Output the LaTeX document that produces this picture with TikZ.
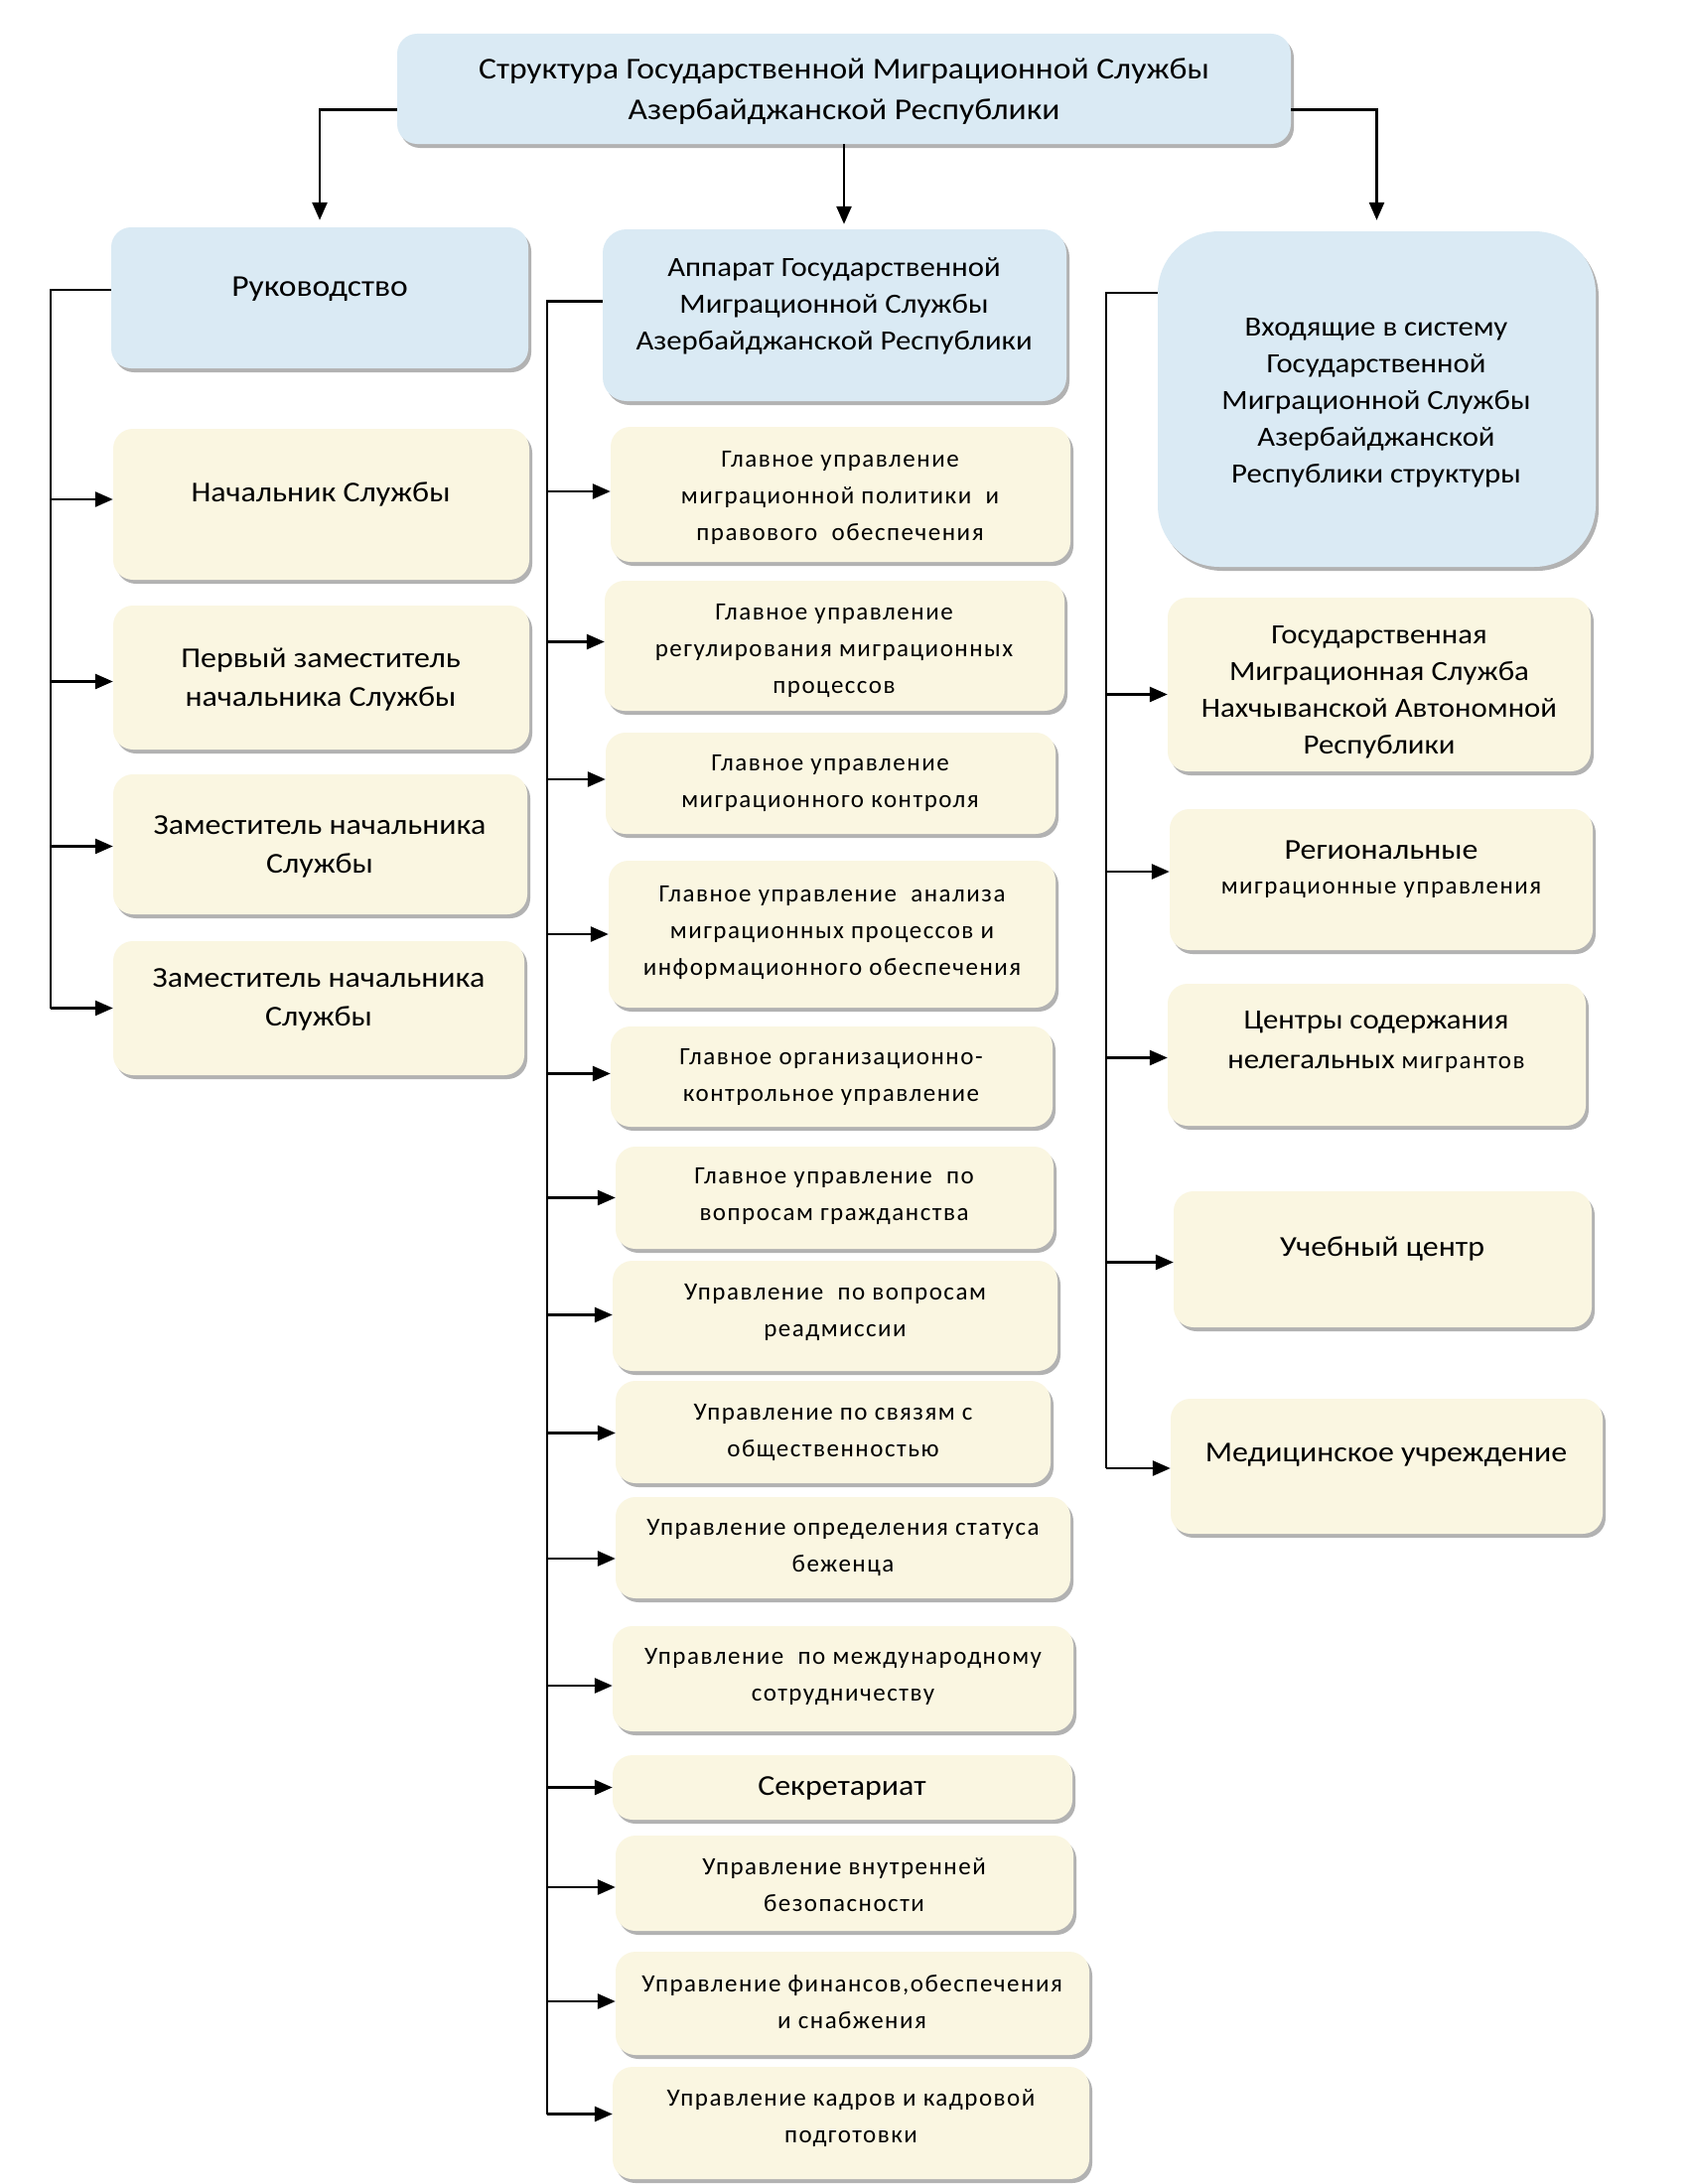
\documentclass[tikz,border=0pt]{standalone}
\usepackage{fontspec}
\setmainfont{Carlito}[FakeStretch=1.1]
\newfontfamily\spc[LetterSpace=6]{Carlito}
\usetikzlibrary{arrows.meta,shadows}
\definecolor{bluef}{HTML}{DAEAF4}
\definecolor{beigef}{HTML}{FAF6E1}
\newcommand\mybox[6]{%
  \pgfmathsetmacro\cx{(#3+#5)/2}\pgfmathsetmacro\cy{(#4+#6)/2}%
  \pgfmathsetmacro\bw{#5-#3}\pgfmathsetmacro\bh{#6-#4}%
  \node[#2, minimum width=\bw pt, minimum height=\bh pt] (#1) at (\cx,\cy) {};}
\begin{document}
\begin{tikzpicture}[x=1pt,y=-1pt,
  box/.style={rounded corners=20pt, inner sep=0pt,
    drop shadow={shadow xshift=3pt,shadow yshift=-4pt,opacity=0.3,fill=black}},
  bbox/.style={box, fill=bluef},
  ybox/.style={box, fill=beigef},
  big/.style={font=\fontsize{29}{39}\selectfont, align=center, inner sep=0pt},
  tbig/.style={font=\fontsize{30.5}{41}\selectfont, align=center, inner sep=0pt},
  rbig/.style={font=\fontsize{28}{37}\selectfont, align=center, inner sep=0pt},
  sml/.style={font=\spc\fontsize{25}{37}\selectfont, align=center, inner sep=0pt},
  conn/.style={line width=2.7pt},
  arr/.style={conn, -{Triangle[length=18pt,width=15pt]}},
]
\useasboundingbox[fill=white] (0,0) rectangle (1700,2200);

% top level
\mybox{top}{bbox}{400}{34}{1300}{145}
\node[tbig] (topT) at (850,92) {Структура Государственной Миграционной Службы\\Азербайджанской Республики};
\mybox{ruk}{bbox}{112}{229}{532}{371}
\node[tbig] (rukT) at (322,291) {Руководство};
\mybox{app}{bbox, rounded corners=24pt}{607}{231}{1074}{404}
\node[rbig] (appT) at (840,308) {Аппарат Государственной\\Миграционной Службы\\Азербайджанской Республики};
\mybox{rtop}{bbox, rounded corners=62pt}{1166}{233}{1607}{571}
\node[rbig] (rtopT) at (1386,406) {Входящие в систему\\Государственной\\Миграционной Службы\\Азербайджанской\\Республики структуры};

% left column
\mybox{nach}{ybox}{114}{432}{533}{584}
\node[big] (nachT) at (323,498) {Начальник Службы};
\mybox{perv}{ybox}{114}{610}{533}{755}
\node[big] (pervT) at (323,685) {Первый заместитель\\начальника Службы};
\mybox{zam1}{ybox}{114}{780}{531}{921}
\node[big] (zam1T) at (322,853) {Заместитель начальника\\Службы};
\mybox{zam2}{ybox}{114}{948}{528}{1083}
\node[big] (zam2T) at (321,1007) {Заместитель начальника\\Службы};

% middle column
\mybox{m1}{ybox}{615}{430}{1078}{566}
\node[sml] (m1T) at (846,501) {Главное управление\\миграционной политики\ \ и\\правового\ \ обеспечения};
\mybox{m2}{ybox}{609}{585}{1072}{716}
\node[sml] (m2T) at (840,656) {Главное управление\\регулирования миграционных\\процессов};
\mybox{m3}{ybox}{610}{738}{1063}{840}
\node[sml] (m3T) at (836,789) {Главное управление\\миграционного контроля};
\mybox{m4}{ybox}{613}{867}{1063}{1015}
\node[sml] (m4T) at (838,940) {Главное управление\ \ анализа\\миграционных процессов и\\информационного обеспечения};
\mybox{m5}{ybox}{615}{1034}{1060}{1135}
\node[sml] (m5T) at (837,1085) {Главное организационно-\\контрольное управление};
\mybox{m6}{ybox}{620}{1155}{1061}{1258}
\node[sml] (m6T) at (840,1205) {Главное управление\ \ по\\вопросам гражданства};
\mybox{m7}{ybox}{617}{1270}{1065}{1381}
\node[sml] (m7T) at (841,1322) {Управление\ \ по вопросам\\реадмиссии};
\mybox{m8}{ybox}{620}{1391}{1058}{1494}
\node[sml] (m8T) at (839,1443) {Управление по связям с\\общественностью};
\mybox{m9}{ybox}{620}{1508}{1078}{1610}
\node[sml] (m9T) at (849,1559) {Управление определения статуса\\беженца};
\mybox{m10}{ybox}{617}{1638}{1081}{1744}
\node[sml] (m10T) at (849,1689) {Управление\ \ по международному\\сотрудничеству};
\mybox{m11}{ybox}{617}{1768}{1080}{1833}
\node[big] (m11T) at (848,1801) {Секретариат};
\mybox{m12}{ybox}{620}{1849}{1081}{1945}
\node[sml] (m12T) at (850,1899) {Управление внутренней\\безопасности};
\mybox{m13}{ybox}{620}{1966}{1097}{2070}
\node[sml] (m13T) at (858,2017) {Управление финансов,обеспечения\\и снабжения};
\mybox{m14}{ybox}{617}{2082}{1097}{2195}
\node[sml] (m14T) at (857,2134) {Управление кадров и кадровой\\подготовки};

% right column
\mybox{r1}{ybox}{1176}{602}{1602}{777}
\node[rbig] (r1T) at (1389,697) {Государственная\\Миграционная Служба\\Нахчыванской Автономной\\Республики};
\mybox{r2}{ybox}{1178}{815}{1604}{957}
\node[big] (r2Ta) at (1391,856) {Региональные};
\node[sml] (r2Tb) at (1391,896) {миграционные управления};
\mybox{r3}{ybox}{1176}{991}{1597}{1134}
\node[rbig] (r3Ta) at (1386,1030) {Центры содержания};
\node[rbig] (r3Tb) at (1386,1072) {нелегальных {\spc\fontsize{25}{30}\selectfont мигрантов}};
\mybox{r4}{ybox}{1182}{1200}{1603}{1337}
\node[big] (r4T) at (1392,1258) {Учебный центр};
\mybox{r5}{ybox}{1179}{1409}{1614}{1545}
\node[big] (r5T) at (1396,1466) {Медицинское учреждение};

% connectors from the top
\draw[arr, shorten >=7pt] ([yshift=-21pt]top.west) -| (ruk.north);
\draw[arr, shorten >=5pt] (top.south) -- (top.south |- app.north);
\draw[arr, shorten >=11pt] ([yshift=-21pt]top.east) -| (rtop.north);

% left bus
\coordinate (lb) at (51,292);
\draw[conn] ([yshift=8pt]ruk.west) -| (lb |- zam2.west);
\foreach \n/\s in {nach/5,perv/-4,zam1/-2,zam2/0}
  \draw[arr] ([yshift=\s pt]lb |- \n.west) -- ([yshift=\s pt]\n.west);

% middle bus
\coordinate (mb) at (551,303);
\draw[conn] ([yshift=14pt]app.west) -| ([yshift=9pt]mb |- m14.west);
\foreach \n/\s in {m1/3,m2/4,m3/4,m4/0,m5/3,m6/0,m7/1,m8/-1,m9/-11,m10/-7,m11/0,m12/-4,m13/2,m14/9}
  \draw[arr] ([yshift=\s pt]mb |- \n.west) -- ([yshift=\s pt]\n.west);

% right bus
\coordinate (rb) at (1114,295);
\draw[conn] ([yshift=107pt]rtop.west) -| ([yshift=-2pt]rb |- r5.west);
\foreach \n/\s in {r1/-10,r2/8,r3/-3,r4/-3,r5/-2}
  \draw[arr] ([yshift=\s pt]rb |- \n.west) -- ([yshift=\s pt]\n.west);
\end{tikzpicture}
\end{document}
